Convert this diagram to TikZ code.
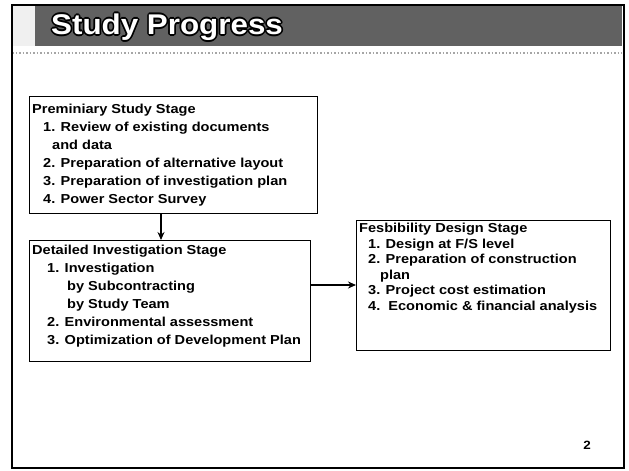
\documentclass[tikz,border=0pt]{standalone}
\usepackage{fontspec}
\setmainfont{Liberation Sans}[FakeStretch=1.12]
\newfontfamily\titlefont{Liberation Sans}[FakeStretch=1.1]
\usetikzlibrary{arrows.meta,calc}
\begin{document}
\begin{tikzpicture}[x=1pt,y=-1pt,
  box/.style={draw=black, line width=1pt, rectangle, inner sep=0pt, anchor=north west},
  txt/.style={anchor=north west, inner sep=0pt, align=left, font=\bfseries\fontsize{13}{18}\selectfont},
  txtb/.style={txt, font=\bfseries\fontsize{13}{15.5}\selectfont},
  ttl/.style={anchor=west, inner sep=0pt, font=\titlefont\bfseries\fontsize{28.5}{30}\selectfont},
  arr/.style={line width=1.2pt, -{Stealth[length=8pt,width=7pt]}}]
\useasboundingbox (0,0) rectangle (629,471);
\fill[white] (0,0) rectangle (629,471);
% title bar
\fill[gray!12] (12,5) rectangle (35,46);
\fill[black!62] (35,5) rectangle (622,46);
\draw[gray!70, dotted, line width=1.5pt] (12,53) -- (622,53);
\draw[line width=1.2pt] (12,5) rectangle (624,468);
% title text with outline
\foreach \a in {0,45,...,315}
  \node[ttl, text=black] (ol\a) at ($(51,27)+(\a:1.7)$) {Study Progress};
\node[ttl, text=white] (title) at (51,27) {Study Progress};
% boxes
\node[box, minimum width=288, minimum height=117] (b1) at (29,96) {};
\node[box, minimum width=281, minimum height=121] (b2) at (29,240) {};
\node[box, minimum width=254, minimum height=130] (b3) at (356,220) {};
% texts
\node[txt] (t1) at (32,104) {Preminiary Study Stage\\
\hspace*{11pt}1. Review of existing documents\\
\hspace*{20pt}and data\\
\hspace*{11pt}2. Preparation of alternative layout\\
\hspace*{11pt}3. Preparation of investigation plan\\
\hspace*{11pt}4. Power Sector Survey};
\node[txt] (t2) at (32,245) {Detailed Investigation Stage\\
\hspace*{15pt}1. Investigation\\
\hspace*{35pt}by Subcontracting\\
\hspace*{35pt}by Study Team\\
\hspace*{15pt}2. Environmental assessment\\
\hspace*{15pt}3. Optimization of Development Plan};
\node[txtb] (t3) at (359,223) {Fesbibility Design Stage\\
\hspace*{9pt}1. Design at F/S level\\
\hspace*{9pt}2. Preparation of construction\\
\hspace*{21pt}plan\\
\hspace*{9pt}3. Project cost estimation\\
\hspace*{9pt}4.\ \ Economic \& financial analysis};
% connectors
\coordinate (ax) at (161,0);
\coordinate (ay) at (0,285);
\draw[arr] (b1.south -| ax) -- (b2.north -| ax);
\draw[arr] (b2.east |- ay) -- (b3.west |- ay);
% page number
\node[font=\bfseries\fontsize{12}{14}\selectfont] (pg) at (587,445) {2};
\end{tikzpicture}
\end{document}
